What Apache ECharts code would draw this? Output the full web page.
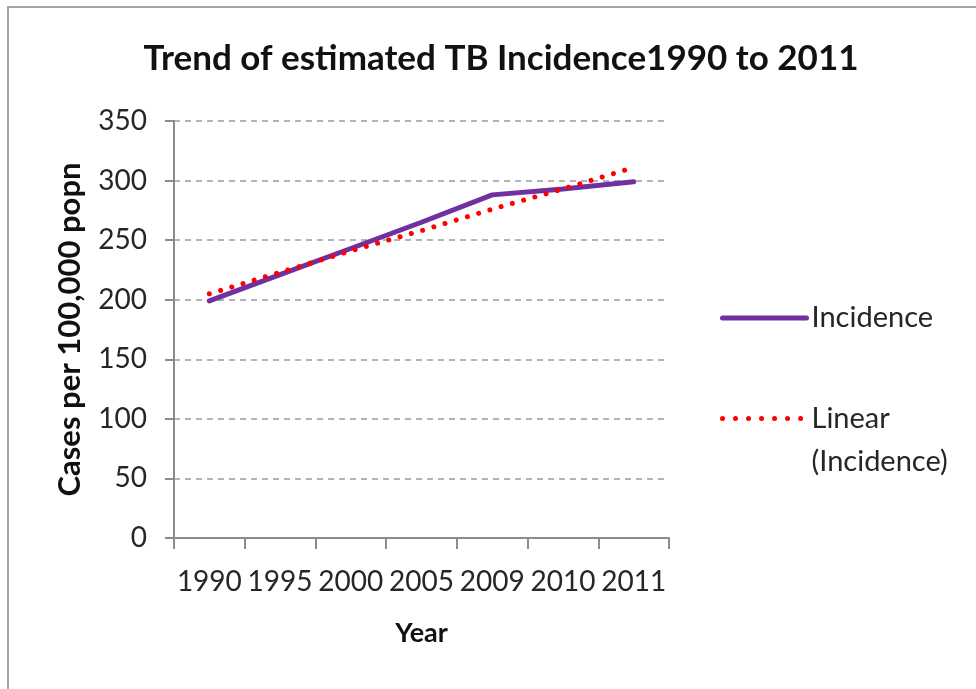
<!DOCTYPE html>
<html>
<head>
<meta charset="utf-8">
<script src="https://cdn.jsdelivr.net/npm/echarts@6/dist/echarts.min.js"></script>
<style>
  html, body { margin: 0; padding: 0; background: #ffffff; }
  #chart { width: 976px; height: 689px; }
</style>
</head>
<body>
<div id="chart"></div>
<script>
// Estimated TB incidence (cases per 100,000 population)
const years = ['1990', '1995', '2000', '2005', '2009', '2010', '2011'];
const incidence = [199, 221, 243, 265, 288, 293, 299];
// Linear trendline of the incidence series
const trend = [205, 223, 241, 258, 276, 293, 311];

const FONT = 'Lato';
const PURPLE = '#7030a0';
const RED = '#ff0000';
const DOTS = [0.01, 11.7];

const chart = echarts.init(document.getElementById('chart'));

chart.setOption({
  backgroundColor: '#ffffff',
  animation: false,
  title: {
    text: 'Trend of estimated TB Incidence1990 to 2011',
    left: 496,
    textAlign: 'center',
    top: 36,
    textStyle: { fontFamily: FONT, fontWeight: 'bold', fontSize: 35, color: '#111111' }
  },
  legend: [
    {
      data: ['Incidence'],
      orient: 'vertical',
      left: 720,
      top: 301,
      padding: 0,
      itemWidth: 84,
      itemHeight: 14,
      itemStyle: { opacity: 0 },
      lineStyle: { color: PURPLE, width: 5, cap: 'round' },
      textStyle: { fontFamily: FONT, fontSize: 29, lineHeight: 34, color: '#262626' }
    },
    {
      data: ['Linear (Incidence)'],
      orient: 'vertical',
      left: 720,
      top: 354,
      padding: 0,
      itemWidth: 84,
      itemHeight: 14,
      itemStyle: { opacity: 0 },
      lineStyle: { color: RED, width: 5, type: [0.01, 13], cap: 'round' },
      // blank first line keeps "Linear" level with the dotted icon
      formatter: function () { return ' \nLinear\n(Incidence)'; },
      textStyle: { fontFamily: FONT, fontSize: 29, lineHeight: 43, color: '#262626' }
    }
  ],
  grid: { left: 174, right: 307, top: 121, bottom: 151, containLabel: false },
  xAxis: {
    type: 'category',
    data: years,
    boundaryGap: true,
    name: 'Year',
    nameLocation: 'middle',
    nameGap: 82,
    nameTextStyle: { fontFamily: FONT, fontWeight: 'bold', fontSize: 27, color: '#111111' },
    axisLine: { lineStyle: { color: '#8c8c8c', width: 2 } },
    axisTick: { show: true, length: 11, lineStyle: { color: '#8c8c8c', width: 2 } },
    axisLabel: { fontFamily: FONT, fontSize: 28, color: '#262626', margin: 30, interval: 0 },
    splitLine: { show: false }
  },
  yAxis: {
    type: 'value',
    min: 0,
    max: 350,
    interval: 50,
    name: 'Cases per 100,000 popn',
    nameLocation: 'middle',
    nameGap: 89,
    nameRotate: 90,
    nameTextStyle: { fontFamily: FONT, fontWeight: 'bold', fontSize: 31, color: '#111111' },
    axisLine: { show: true, lineStyle: { color: '#8c8c8c', width: 2 } },
    axisTick: { show: true, length: 9, lineStyle: { color: '#8c8c8c', width: 2 } },
    axisLabel: { fontFamily: FONT, fontSize: 28, color: '#262626', margin: 27 },
    splitLine: { show: true, lineStyle: { color: '#9a9a9a', width: 1.5, type: [6, 5] } }
  },
  series: [
    {
      name: 'Incidence',
      type: 'line',
      data: incidence,
      symbol: 'none',
      z: 3,
      lineStyle: { color: PURPLE, width: 5, cap: 'round' },
      itemStyle: { color: PURPLE }
    },
    {
      name: 'Linear (Incidence)',
      type: 'line',
      data: trend,
      symbol: 'none',
      z: 4,
      lineStyle: { color: RED, width: 5, type: DOTS, cap: 'round' },
      itemStyle: { color: RED }
    }
  ],
  graphic: [
    {
      type: 'polyline',
      silent: true,
      shape: { points: [[8, 689], [8, 7], [976, 7]] },
      style: { stroke: '#a6a6a6', lineWidth: 2, fill: null }
    }
  ]
});
</script>
</body>
</html>
